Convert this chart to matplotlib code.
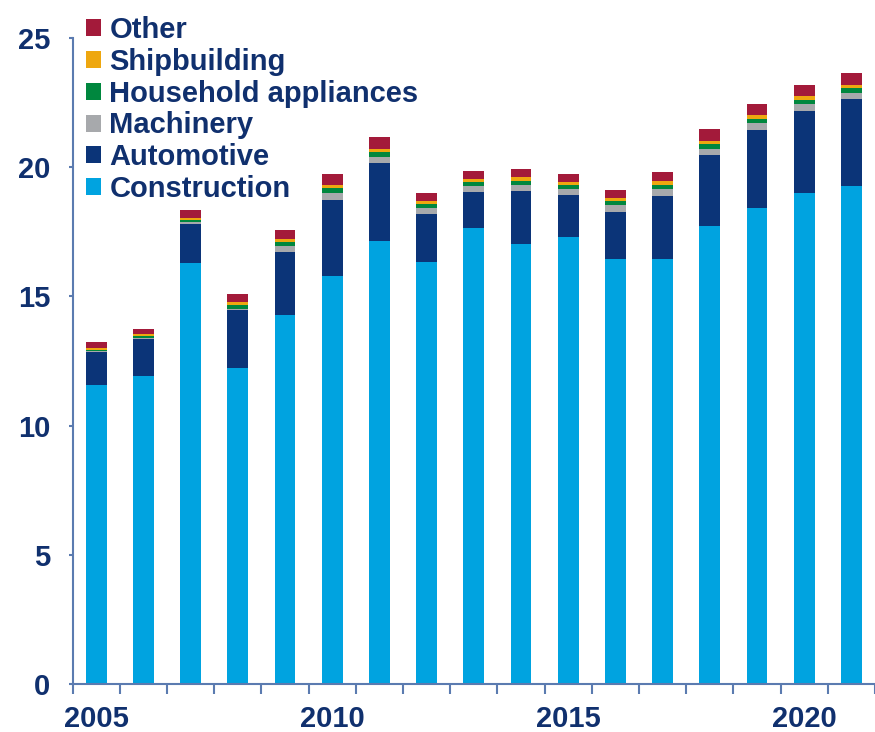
import matplotlib
matplotlib.use("Agg")
import matplotlib.pyplot as plt
import numpy as np

plt.rcParams['font.family'] = ['Liberation Sans', 'DejaVu Sans']
plt.rcParams['font.weight'] = 'bold'

years = list(range(2005, 2022))
construction = [11.57, 11.93, 16.28, 12.24, 14.28, 15.80, 17.13, 16.33, 17.63,
                17.02, 17.31, 16.45, 16.45, 17.74, 18.43, 18.99, 19.28]
automotive = [1.29, 1.42, 1.52, 2.23, 2.42, 2.95, 3.02, 1.85, 1.42,
              2.07, 1.63, 1.83, 2.44, 2.72, 3.01, 3.20, 3.35]
machinery = [0.03, 0.05, 0.07, 0.03, 0.25, 0.24, 0.25, 0.24, 0.23,
             0.21, 0.22, 0.26, 0.27, 0.26, 0.26, 0.24, 0.26]
household = [0.05, 0.05, 0.08, 0.15, 0.15, 0.19, 0.19, 0.16, 0.13,
             0.18, 0.15, 0.15, 0.15, 0.18, 0.15, 0.17, 0.16]
shipbuilding = [0.08, 0.09, 0.10, 0.13, 0.11, 0.12, 0.11, 0.11, 0.12,
                0.13, 0.10, 0.11, 0.17, 0.13, 0.17, 0.16, 0.15]
other = [0.20, 0.20, 0.28, 0.30, 0.36, 0.44, 0.45, 0.32, 0.32,
         0.31, 0.31, 0.32, 0.32, 0.43, 0.41, 0.44, 0.43]

series = [("Construction", construction, "#00a3e0"),
          ("Automotive", automotive, "#0b3478"),
          ("Machinery", machinery, "#a7a9ac"),
          ("Household appliances", household, "#00873e"),
          ("Shipbuilding", shipbuilding, "#eea70f"),
          ("Other", other, "#a31a3a")]

navy = "#10306e"
axcol = "#5b7bb0"

fig = plt.figure(figsize=(8.75, 7.32), dpi=100)
ax = fig.add_axes([72.6/875, 48/732, 1 - 72.6/875, (684-38)/732])

bottom = np.zeros(len(years))
handles = []
for name, vals, col in series:
    b = ax.bar(years, vals, width=0.44, bottom=bottom, color=col, label=name)
    bottom += np.array(vals)
    handles.append(b)

ax.set_xlim(2004.5, 2021.32)
ax.set_ylim(0, 25)

for s in ['top', 'right']:
    ax.spines[s].set_visible(False)
ax.spines['left'].set_color(axcol)
ax.spines['bottom'].set_color(axcol)
ax.spines['left'].set_linewidth(1.5)
ax.spines['bottom'].set_linewidth(1.5)

ax.set_yticks([0, 5, 10, 15, 20, 25])
ax.tick_params(axis='y', direction='out', length=3, width=1.5, color=axcol,
               labelsize=21, labelcolor=navy, pad=13)
ax.set_xticks([2005, 2010, 2015, 2020])
ax.set_xticks(np.arange(2004.5, 2021.6, 1), minor=True)
ax.tick_params(axis='x', which='major', length=0, labelsize=21, labelcolor=navy, pad=15)
ax.tick_params(axis='x', which='minor', direction='out', length=7, width=1.5, color=axcol)

leg = fig.legend(handles[::-1], [s[0] for s in series][::-1],
                 loc='upper left', bbox_to_anchor=(86/875, 1 - 16/732),
                 frameon=False, fontsize=21, handlelength=0.52, handleheight=0.52,
                 handletextpad=0.28, labelspacing=0.13, borderpad=0, borderaxespad=0)
for t in leg.get_texts():
    t.set_color(navy)
    t.set_fontweight('bold')

fig.savefig("out.png", dpi=100)
